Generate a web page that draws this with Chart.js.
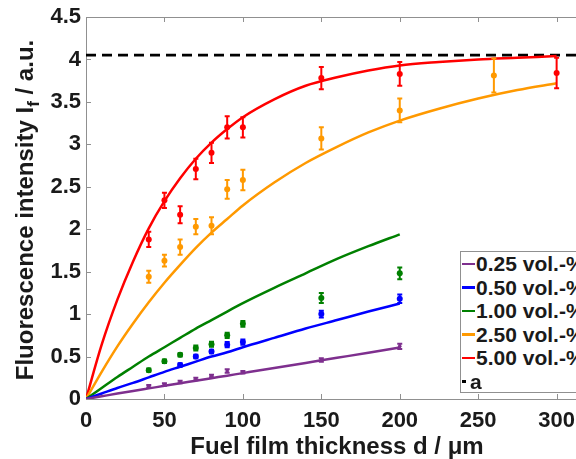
<!DOCTYPE html>
<html>
<head>
<meta charset="utf-8">
<script src="https://cdn.jsdelivr.net/npm/chart.js@4/dist/chart.umd.min.js"></script>
<style>
  html, body { margin: 0; padding: 0; background: #fff; }
  #wrap { position: relative; width: 576px; height: 459px; overflow: hidden; }
  #plot { position: absolute; left: 0; top: 0; }
  #legend {
    position: absolute; left: 460px; top: 251px; width: 150px; height: 142px;
    box-sizing: border-box; border: 1px solid #909090; background: #fff;
    font: bold 21px "Liberation Sans", Arial, sans-serif; color: #1a1a1a;
  }
  .row { position: relative; height: 23.6px; line-height: 23.6px; white-space: nowrap; }
  .row .swatch { position: absolute; left: 1px; top: 10.5px; height: 2.5px; }
  .row .txt { position: absolute; left: 15px; top: 0; }
</style>
</head>
<body>
<div id="wrap">
  <canvas id="plot" width="600" height="459"></canvas>
  <div id="legend"></div>
</div>
<script>
// ---- data -------------------------------------------------------------
const concentrationLabels = ['0.25 vol.-%', '0.50 vol.-%', '1.00 vol.-%', '2.50 vol.-%', '5.00 vol.-%'];
const seriesColors = ['#7E2F8E', '#0000FF', '#008000', '#FF9900', '#FF0000'];

// fitted intensity curves
const fitThicknessLong  = [0, 10, 20, 30, 40, 50, 60, 70, 80, 90, 100, 120, 140, 160, 180, 200, 225, 250, 275, 300];
const fitThicknessShort = [0, 10, 20, 30, 40, 50, 60, 70, 80, 90, 100, 120, 140, 160, 180, 200];
const fit025 = [0, 0.032, 0.064, 0.095, 0.125, 0.155, 0.185, 0.215, 0.245, 0.275, 0.305, 0.365, 0.425, 0.485, 0.545, 0.606];
const fit050 = [0, 0.065, 0.13, 0.19, 0.255, 0.32, 0.38, 0.44, 0.50, 0.55, 0.61, 0.72, 0.83, 0.93, 1.03, 1.125];
const fit100 = [0, 0.13, 0.26, 0.38, 0.50, 0.61, 0.72, 0.83, 0.93, 1.03, 1.13, 1.31, 1.48, 1.65, 1.80, 1.94];
const fit250 = [0, 0.32, 0.62, 0.89, 1.14, 1.37, 1.58, 1.78, 1.96, 2.12, 2.28, 2.55, 2.78, 2.97, 3.14, 3.28, 3.42, 3.54, 3.64, 3.72];
const fit500 = [0, 0.64, 1.17, 1.62, 2.01, 2.33, 2.60, 2.83, 3.02, 3.18, 3.32, 3.53, 3.69, 3.79, 3.87, 3.93, 3.97, 4.00, 4.02, 4.04];

// measured intensities with error bars
const meas025X = [40, 50, 60, 70, 80, 90, 100, 150, 200];
const meas025Y = [0.15, 0.17, 0.20, 0.235, 0.27, 0.33, 0.315, 0.46, 0.62];
const meas025E = [0.015, 0.015, 0.015, 0.015, 0.015, 0.02, 0.015, 0.02, 0.03];
const meas050X = [60, 70, 80, 90, 100, 150, 200];
const meas050Y = [0.40, 0.50, 0.56, 0.64, 0.67, 1.00, 1.18];
const meas050E = [0.02, 0.02, 0.02, 0.03, 0.03, 0.04, 0.05];
const meas100X = [40, 50, 60, 70, 80, 90, 100, 150, 200];
const meas100Y = [0.34, 0.445, 0.52, 0.60, 0.645, 0.75, 0.885, 1.19, 1.48];
const meas100E = [0.02, 0.02, 0.02, 0.03, 0.03, 0.03, 0.035, 0.06, 0.07];
const meas250X = [40, 50, 60, 70, 80, 90, 100, 150, 200, 260];
const meas250Y = [1.44, 1.63, 1.79, 2.03, 2.04, 2.47, 2.58, 3.07, 3.40, 3.81];
const meas250E = [0.07, 0.07, 0.09, 0.09, 0.10, 0.11, 0.12, 0.13, 0.14, 0.20];
const meas500X = [40, 50, 60, 70, 80, 90, 100, 150, 200, 300];
const meas500Y = [1.88, 2.34, 2.17, 2.71, 2.90, 3.20, 3.20, 3.78, 3.83, 3.84];
const meas500E = [0.09, 0.09, 0.10, 0.12, 0.12, 0.13, 0.12, 0.13, 0.14, 0.18];

// saturation level a
const saturationA = 4.05;
const saturationLabel = 'a';

// axes
const xTickValues = [0, 50, 100, 150, 200, 250, 300];
const yTickValues = [0, 0.5, 1, 1.5, 2, 2.5, 3, 3.5, 4, 4.5];
const xLimits = [0, 320];
const yLimits = [0, 4.5];

// ---- datasets ---------------------------------------------------------
const pair = (xs, ys) => xs.map((x, i) => ({ x: x, y: ys[i] }));

const fitSets = [
  [fitThicknessShort, fit025],
  [fitThicknessShort, fit050],
  [fitThicknessShort, fit100],
  [fitThicknessLong, fit250],
  [fitThicknessLong, fit500]
];
const measSets = [
  [meas025X, meas025Y, meas025E],
  [meas050X, meas050Y, meas050E],
  [meas100X, meas100Y, meas100E],
  [meas250X, meas250Y, meas250E],
  [meas500X, meas500Y, meas500E]
];

const datasets = [];
fitSets.forEach(([xs, ys], i) => {
  datasets.push({
    label: concentrationLabels[i],
    inLegend: true,
    data: pair(xs, ys),
    showLine: true,
    borderColor: seriesColors[i],
    backgroundColor: seriesColors[i],
    borderWidth: 2.5,
    pointRadius: 0,
    cubicInterpolationMode: 'monotone',
    order: 2
  });
});
measSets.forEach(([xs, ys, es], i) => {
  datasets.push({
    label: concentrationLabels[i] + ' data',
    data: pair(xs, ys),
    errors: es,
    showLine: false,
    borderColor: seriesColors[i],
    backgroundColor: seriesColors[i],
    pointRadius: i === 0 ? 1.8 : 3,
    pointBorderWidth: 0,
    order: 1
  });
});
datasets.push({
  label: saturationLabel,
  inLegend: true,
  dashed: true,
  data: pair(xLimits, [saturationA, saturationA]),
  showLine: true,
  borderColor: '#000000',
  backgroundColor: '#000000',
  borderWidth: 2.8,
  borderDash: [10, 6],
  pointRadius: 0,
  order: 3
});

// ---- plugins ----------------------------------------------------------
const AXIS_GRAY = '#909090';
const TEXT_COLOR = '#1a1a1a';
const FONT = '"Liberation Sans", Arial, Helvetica, sans-serif';

// box around the plot area with inward tick marks
const axesBox = {
  id: 'axesBox',
  beforeDatasetsDraw(chart) {
    const { ctx, chartArea: a, scales } = chart;
    ctx.save();
    ctx.strokeStyle = AXIS_GRAY;
    ctx.lineWidth = 1;
    ctx.strokeRect(a.left + 0.5, a.top + 0.5, a.right - a.left, a.bottom - a.top);
    const len = 5;
    ctx.beginPath();
    scales.x.ticks.forEach(t => {
      const px = Math.round(scales.x.getPixelForValue(t.value)) + 0.5;
      ctx.moveTo(px, a.bottom); ctx.lineTo(px, a.bottom - len);
      ctx.moveTo(px, a.top); ctx.lineTo(px, a.top + len);
    });
    scales.y.ticks.forEach(t => {
      const py = Math.round(scales.y.getPixelForValue(t.value)) + 0.5;
      ctx.moveTo(a.left, py); ctx.lineTo(a.left + len, py);
      ctx.moveTo(a.right, py); ctx.lineTo(a.right - len, py);
    });
    ctx.stroke();
    ctx.restore();
  }
};

// vertical error bars with caps
const errorBars = {
  id: 'errorBars',
  afterDatasetsDraw(chart) {
    const { ctx, scales } = chart;
    ctx.save();
    chart.data.datasets.forEach(ds => {
      if (!ds.errors) return;
      ctx.strokeStyle = ds.borderColor;
      ctx.lineWidth = 2;
      ctx.beginPath();
      ds.data.forEach((p, i) => {
        const e = ds.errors[i];
        const px = scales.x.getPixelForValue(p.x);
        const y1 = scales.y.getPixelForValue(p.y + e);
        const y2 = scales.y.getPixelForValue(p.y - e);
        ctx.moveTo(px, y1); ctx.lineTo(px, y2);
        ctx.moveTo(px - 2.5, y1); ctx.lineTo(px + 2.5, y1);
        ctx.moveTo(px - 2.5, y2); ctx.lineTo(px + 2.5, y2);
      });
      ctx.stroke();
    });
    ctx.restore();
  }
};

// rotated y-axis title with a subscript
const yTitle = {
  id: 'yTitle',
  afterDraw(chart) {
    const { ctx, chartArea: a } = chart;
    const parts = [
      { t: 'Fluorescence intensity I', size: 24, dy: 0 },
      { t: 'f', size: 17, dy: 6 },
      { t: ' / a.u.', size: 24, dy: 0 }
    ];
    ctx.save();
    let total = 0;
    parts.forEach(p => { ctx.font = 'bold ' + p.size + 'px ' + FONT; p.w = ctx.measureText(p.t).width; total += p.w; });
    ctx.translate(33, (a.top + a.bottom) / 2 + 2);
    ctx.rotate(-Math.PI / 2);
    ctx.fillStyle = TEXT_COLOR;
    ctx.textBaseline = 'alphabetic';
    let x = -total / 2;
    parts.forEach(p => {
      ctx.font = 'bold ' + p.size + 'px ' + FONT;
      ctx.fillText(p.t, x, p.dy);
      x += p.w;
    });
    ctx.restore();
  }
};

// ---- chart ------------------------------------------------------------
const chart = new Chart(document.getElementById('plot'), {
  type: 'scatter',
  data: { datasets: datasets },
  plugins: [axesBox, errorBars, yTitle],
  options: {
    responsive: false,
    animation: false,
    layout: { padding: { top: 17, right: 12, left: 0, bottom: 0 } },
    plugins: { legend: { display: false }, tooltip: { enabled: false } },
    scales: {
      x: {
        type: 'linear', min: xLimits[0], max: xLimits[1],
        grid: { display: false, drawTicks: false },
        border: { display: false },
        afterBuildTicks: s => { s.ticks = xTickValues.map(v => ({ value: v })); },
        afterFit: s => { s.height = 60; },
        ticks: { color: TEXT_COLOR, font: { family: FONT, size: 22, weight: 'bold' }, padding: 9, maxRotation: 0, autoSkip: false,
                 callback: v => String(v) },
        title: { display: true, text: 'Fuel film thickness d / μm', color: TEXT_COLOR,
                 font: { family: FONT, size: 24, weight: 'bold' }, padding: { top: 0, bottom: -3 } }
      },
      y: {
        type: 'linear', min: yLimits[0], max: yLimits[1],
        grid: { display: false, drawTicks: false },
        border: { display: false },
        afterBuildTicks: s => { s.ticks = yTickValues.map(v => ({ value: v })); },
        afterFit: s => { s.width = 86; },
        ticks: { color: TEXT_COLOR, font: { family: FONT, size: 22, weight: 'bold', lineHeight: 1 }, padding: 5, autoSkip: false,
                 callback: v => String(v) }
      }
    }
  }
});

// ---- legend built from the chart's datasets ---------------------------
const legendEl = document.getElementById('legend');
chart.data.datasets.filter(d => d.inLegend).forEach(d => {
  const row = document.createElement('div');
  row.className = 'row';
  const sw = document.createElement('span');
  sw.className = 'swatch';
  sw.style.background = d.borderColor;
  sw.style.width = d.dashed ? '4px' : '13px';
  const tx = document.createElement('span');
  tx.className = 'txt';
  tx.textContent = d.label;
  if (d.dashed) tx.style.left = '9px';
  row.appendChild(sw);
  row.appendChild(tx);
  legendEl.appendChild(row);
});
</script>
</body>
</html>
